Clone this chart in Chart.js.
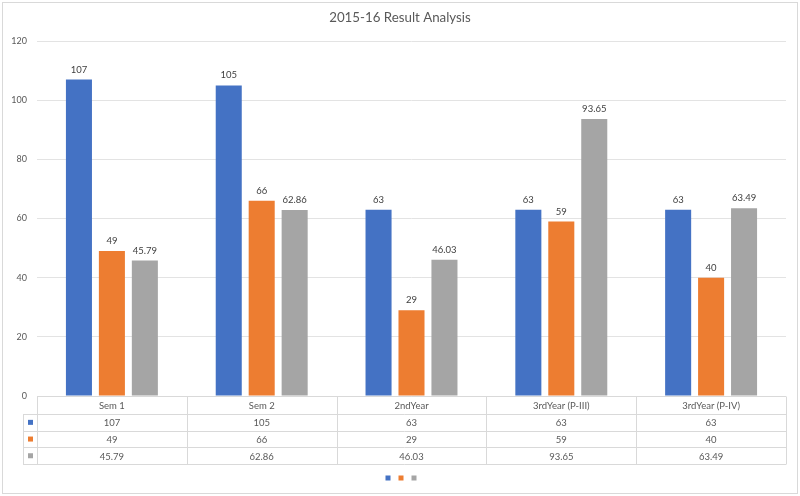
<!DOCTYPE html>
<html>
<head>
<meta charset="utf-8">
<script src="https://cdn.jsdelivr.net/npm/chart.js@4"></script>
<style>
html,body{margin:0;padding:0;background:#fff;}
#wrap{width:800px;height:496px;position:relative;}
</style>
</head>
<body>
<div id="wrap"><canvas id="c" width="800" height="496"></canvas></div>
<script>
const categories = ["Sem 1", "Sem 2", "2ndYear", "3rdYear (P-III)", "3rdYear (P-IV)"];
const seriesA = [107, 105, 63, 63, 63];
const seriesB = [49, 66, 29, 59, 40];
const seriesC = [45.79, 62.86, 46.03, 93.65, 63.49];
const seriesLabels = ["", "", ""];
const yTicks = [0, 20, 40, 60, 80, 100, 120];
const colors = ["#4472C4", "#ED7D31", "#A5A5A5"];
const titleText = "2015-16 Result Analysis";
const FONT = "Lato, 'Open Sans', sans-serif";

const fmt = v => String(v);

const extras = {
  id: 'extras',
  beforeDraw(chart) {
    const ctx = chart.ctx;
    ctx.save();
    ctx.fillStyle = '#fff';
    ctx.fillRect(0, 0, chart.width, chart.height);
    ctx.strokeStyle = '#D9D9D9';
    ctx.lineWidth = 1;
    ctx.strokeRect(2.5, 2.5, chart.width - 5, chart.height - 5);
    ctx.font = "13.3px " + FONT;
    ctx.fillStyle = '#595959';
    ctx.textAlign = 'center';
    ctx.textBaseline = 'middle';
    ctx.fillText(titleText, chart.width / 2, 18);
    ctx.restore();
  },
  afterDatasetsDraw(chart) {
    const ctx = chart.ctx;
    const xs = chart.scales.x;
    const ys = chart.scales.y;
    ctx.save();
    // data labels
    ctx.font = "9.5px " + FONT;
    ctx.fillStyle = '#404040';
    ctx.textAlign = 'center';
    ctx.textBaseline = 'middle';
    chart.data.datasets.forEach((ds, di) => {
      const meta = chart.getDatasetMeta(di);
      meta.data.forEach((bar, i) => {
        ctx.fillText(fmt(ds.data[i]), bar.x, bar.y - 10);
      });
    });
    // data table
    const half = (xs.getPixelForValue(1) - xs.getPixelForValue(0)) / 2;
    const left = xs.getPixelForValue(0) - half;
    const right = xs.getPixelForValue(categories.length - 1) + half;
    const top = ys.getPixelForValue(0);
    const headerH = 18;
    const rowH = 16.7;
    const keyLeft = left - 14;
    ctx.strokeStyle = '#D9D9D9';
    ctx.lineWidth = 1;
    ctx.beginPath();
    const ry = v => Math.round(v) + 0.5;
    ctx.moveTo(left, ry(top)); ctx.lineTo(right, ry(top));
    for (let r = 0; r <= 3; r++) {
      const y = ry(top + headerH + r * rowH);
      ctx.moveTo(keyLeft, y); ctx.lineTo(right, y);
    }
    const bottom = ry(top + headerH + 3 * rowH);
    for (let i = 0; i <= categories.length; i++) {
      const x = ry(left + i * 2 * half);
      ctx.moveTo(x, ry(top)); ctx.lineTo(x, bottom);
    }
    ctx.moveTo(ry(keyLeft), ry(top + headerH)); ctx.lineTo(ry(keyLeft), bottom);
    ctx.stroke();
    ctx.font = "9.5px " + FONT;
    ctx.fillStyle = '#595959';
    ctx.textBaseline = 'middle';
    ctx.textAlign = 'center';
    categories.forEach((c, i) => {
      ctx.fillText(c, xs.getPixelForValue(i), top + headerH / 2 + 1);
    });
    chart.data.datasets.forEach((ds, di) => {
      const cy = top + headerH + di * rowH + rowH / 2;
      ds.data.forEach((v, i) => {
        ctx.fillStyle = '#595959';
        ctx.fillText(fmt(v), xs.getPixelForValue(i), cy + 1);
      });
      ctx.fillStyle = ds.backgroundColor;
      ctx.fillRect(keyLeft + 5, cy - 2.5, 5, 5);
    });
    // legend keys
    const ly = 478;
    const cx = chart.width / 2;
    chart.data.datasets.forEach((ds, di) => {
      ctx.fillStyle = ds.backgroundColor;
      ctx.fillRect(cx - 12 + di * 13 - 2.5, ly - 2.5, 5, 5);
    });
    ctx.restore();
  }
};

new Chart(document.getElementById('c'), {
  type: 'bar',
  data: {
    labels: categories,
    datasets: [
      { label: seriesLabels[0], data: seriesA, backgroundColor: colors[0] },
      { label: seriesLabels[1], data: seriesB, backgroundColor: colors[1] },
      { label: seriesLabels[2], data: seriesC, backgroundColor: colors[2] }
    ]
  },
  options: {
    responsive: false,
    animation: false,
    devicePixelRatio: 1,
    categoryPercentage: 0.66,
    barPercentage: 0.79,
    layout: { padding: { left: 0, right: 14, top: 41, bottom: 100 } },
    plugins: {
      legend: { display: false },
      tooltip: { enabled: false },
      title: { display: false }
    },
    scales: {
      x: { display: false, offset: true },
      y: {
        min: 0, max: 120,
        afterFit(s) { s.width = 37; },
        afterBuildTicks(s) { s.ticks = yTicks.map(v => ({ value: v })); },
        border: { display: false },
        grid: { color: '#E3E3E3', drawTicks: false },
        ticks: { color: '#595959', font: { family: FONT, size: 9 }, padding: 10 }
      }
    }
  },
  plugins: [extras]
});
</script>
</body>
</html>
